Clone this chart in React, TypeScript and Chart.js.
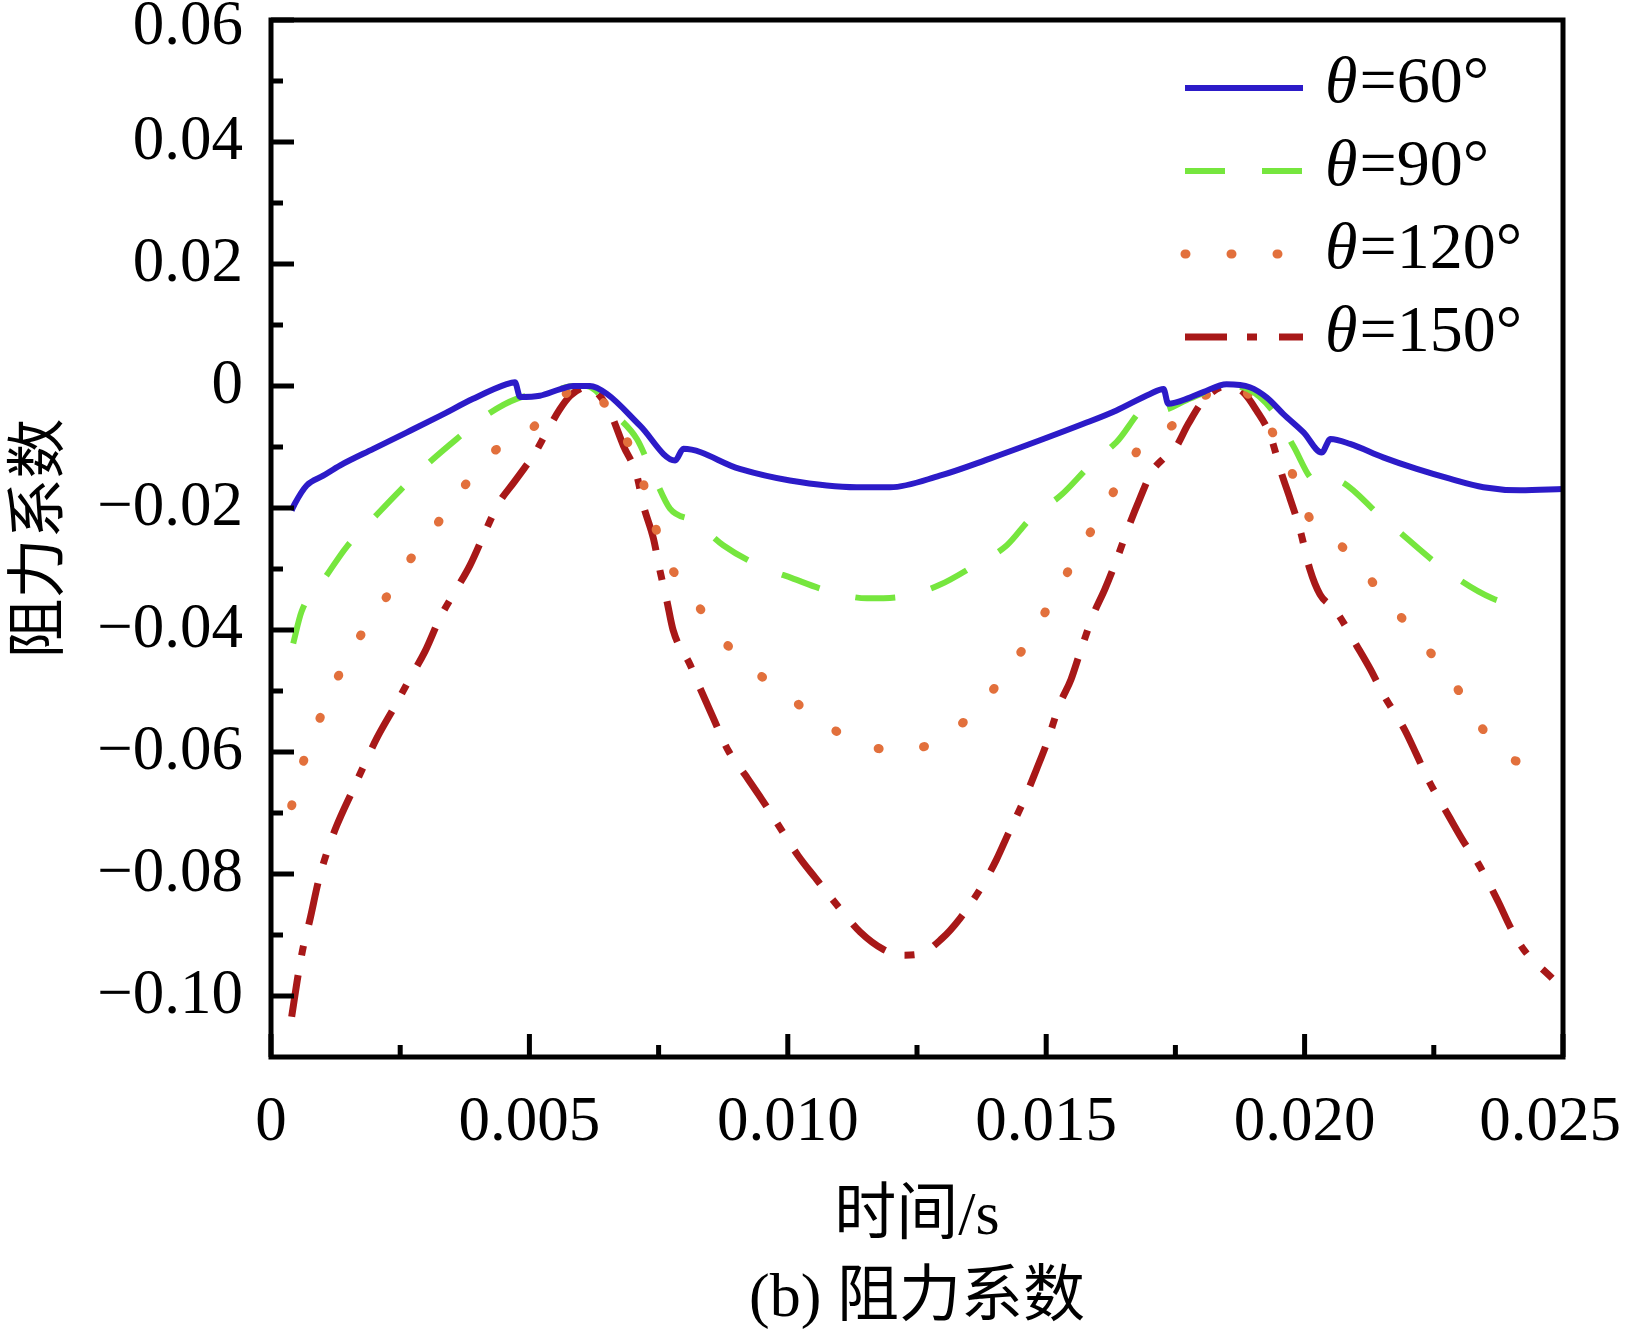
import { useEffect, useRef } from 'react';
import Chart from 'chart.js/auto';

// time (s) and drag coefficient
const time60 = [0.0004, 0.00046, 0.00069, 0.00101, 0.00134, 0.00198, 0.00263, 0.00327, 0.00391, 0.00456, 0.00472, 0.00482, 0.0052, 0.0056, 0.00585, 0.00617, 0.0065, 0.00714, 0.00782, 0.00798, 0.00907, 0.01004, 0.01133, 0.01198, 0.01294, 0.01391, 0.01488, 0.01572, 0.01636, 0.01701, 0.01727, 0.01736, 0.01778, 0.01804, 0.01849, 0.01894, 0.01927, 0.01959, 0.01998, 0.02033, 0.0205, 0.02088, 0.02152, 0.02217, 0.02281, 0.02346, 0.02417, 0.025];
const drag60 = [-0.0204, -0.0193, -0.0163, -0.0147, -0.013, -0.0103, -0.0076, -0.0049, -0.0021, 0.0003, 0.0006, -0.0018, -0.0016, -0.0005, 0.0, 0.0, -0.0013, -0.0065, -0.0122, -0.0103, -0.0136, -0.0155, -0.0166, -0.0166, -0.0147, -0.0119, -0.0089, -0.0062, -0.004, -0.0013, -0.0005, -0.0029, -0.0019, -0.001, 0.0003, -0.0002, -0.0019, -0.0046, -0.0076, -0.0109, -0.0087, -0.0095, -0.0117, -0.0136, -0.0152, -0.0166, -0.0171, -0.0169];

const time90 = [0.00043, 0.00059, 0.00108, 0.00146, 0.00198, 0.0025, 0.00304, 0.00359, 0.0042, 0.00475, 0.0054, 0.00585, 0.0061, 0.00669, 0.00708, 0.00743, 0.00772, 0.0082, 0.00875, 0.00943, 0.01008, 0.01082, 0.01153, 0.01223, 0.01294, 0.01358, 0.01424, 0.0147, 0.0153, 0.01585, 0.01636, 0.01701, 0.0172, 0.0178, 0.0185, 0.0189, 0.0195, 0.01978, 0.02023, 0.0205, 0.02152, 0.02268, 0.02363, 0.02437];
const drag90 = [-0.0422, -0.037, -0.031, -0.0264, -0.0217, -0.0171, -0.0127, -0.0087, -0.0046, -0.0021, -0.001, 0.0, 0.0, -0.0049, -0.0087, -0.0152, -0.0201, -0.0222, -0.0261, -0.0294, -0.0315, -0.0337, -0.0348, -0.0345, -0.0326, -0.0296, -0.0261, -0.0217, -0.0178, -0.013, -0.0092, -0.0032, -0.004, -0.002, 0.0, -0.0005, -0.0054, -0.0098, -0.0157, -0.0152, -0.0217, -0.0299, -0.0348, -0.0364];

const time120 = [0.0004, 0.00063, 0.00095, 0.0013, 0.00172, 0.00221, 0.00269, 0.00324, 0.00375, 0.00433, 0.00488, 0.00546, 0.006, 0.00656, 0.00675, 0.00714, 0.00737, 0.00766, 0.00807, 0.00856, 0.00917, 0.00985, 0.01055, 0.0113, 0.01213, 0.01294, 0.01362, 0.01417, 0.01469, 0.01513, 0.01556, 0.01601, 0.01645, 0.01691, 0.01749, 0.01804, 0.0185, 0.01894, 0.01936, 0.01978, 0.0201, 0.02062, 0.02117, 0.02175, 0.0223, 0.02288, 0.02333, 0.02391, 0.02465];
const drag120 = [-0.0688, -0.0615, -0.0544, -0.0476, -0.0411, -0.0349, -0.0285, -0.0223, -0.0163, -0.0106, -0.0084, -0.0032, 0.0, -0.004, -0.0067, -0.0141, -0.0212, -0.0285, -0.0334, -0.0397, -0.0454, -0.0498, -0.0544, -0.0582, -0.0598, -0.058, -0.0533, -0.0476, -0.0413, -0.0348, -0.0283, -0.0217, -0.0152, -0.0089, -0.0062, -0.0018, 0.0, -0.0016, -0.0073, -0.0147, -0.0217, -0.0254, -0.0307, -0.0367, -0.0423, -0.0486, -0.0549, -0.0605, -0.0633];

const time150 = [0.0004, 0.00053, 0.00063, 0.00075, 0.00092, 0.00108, 0.00127, 0.00159, 0.00182, 0.00205, 0.00243, 0.00269, 0.00298, 0.00327, 0.00356, 0.00385, 0.00417, 0.0044, 0.0047, 0.0049, 0.00508, 0.00533, 0.00559, 0.00579, 0.00611, 0.0063, 0.00656, 0.00682, 0.00708, 0.0072, 0.0074, 0.00753, 0.00766, 0.00778, 0.00811, 0.0083, 0.00853, 0.00885, 0.00917, 0.0095, 0.00991, 0.0102, 0.01053, 0.01104, 0.0114, 0.01184, 0.01223, 0.01256, 0.01298, 0.01333, 0.01378, 0.01404, 0.01426, 0.01459, 0.01481, 0.015, 0.01526, 0.01548, 0.01565, 0.01591, 0.01614, 0.01633, 0.01662, 0.01681, 0.01704, 0.01727, 0.01749, 0.01775, 0.01804, 0.01849, 0.01881, 0.01907, 0.01933, 0.01956, 0.01972, 0.01991, 0.0201, 0.0203, 0.02059, 0.02101, 0.02127, 0.02152, 0.02194, 0.02217, 0.02239, 0.02281, 0.02307, 0.02336, 0.02375, 0.02398, 0.02424, 0.02479];
const drag150 = [-0.1034, -0.0963, -0.0917, -0.0876, -0.0811, -0.0765, -0.0721, -0.0661, -0.0618, -0.0577, -0.052, -0.0479, -0.0435, -0.038, -0.0337, -0.0294, -0.0234, -0.0193, -0.0158, -0.0135, -0.0114, -0.0076, -0.0038, -0.0016, -0.0002, -0.001, -0.0043, -0.0098, -0.0147, -0.0194, -0.025, -0.0304, -0.0352, -0.04, -0.0457, -0.0495, -0.0539, -0.0598, -0.0637, -0.0678, -0.0732, -0.077, -0.0806, -0.086, -0.0895, -0.0923, -0.0933, -0.0931, -0.0906, -0.0873, -0.0817, -0.0776, -0.0735, -0.0675, -0.0629, -0.0588, -0.0522, -0.0481, -0.0438, -0.0375, -0.0332, -0.0292, -0.0225, -0.0185, -0.0141, -0.0119, -0.0103, -0.0062, -0.0024, 0.0, -0.001, -0.004, -0.008, -0.0145, -0.0185, -0.0235, -0.03, -0.0342, -0.0367, -0.0426, -0.0464, -0.0505, -0.0564, -0.0605, -0.0645, -0.0708, -0.0746, -0.0783, -0.0846, -0.0887, -0.0924, -0.0971];

const seriesLabels = ['θ=60°', 'θ=90°', 'θ=120°', 'θ=150°'];

const xMajorTicks = [0, 0.005, 0.01, 0.015, 0.02, 0.025];
const xMinorTicks = [0.0025, 0.0075, 0.0125, 0.0175, 0.0225];
const xTickLabels = ['0', '0.005', '0.010', '0.015', '0.020', '0.025'];
const yMajorTicks = [0.06, 0.04, 0.02, 0, -0.02, -0.04, -0.06, -0.08, -0.1];
const yMinorTicks = [0.05, 0.03, 0.01, -0.01, -0.03, -0.05, -0.07, -0.09];
const yTickLabels = ['0.06', '0.04', '0.02', '0', '\u22120.02', '\u22120.04', '\u22120.06', '\u22120.08', '\u22120.10'];

const SERIF = "'Liberation Serif', 'Noto Sans CJK SC', serif";

const toPoints = (t: number[], v: number[]) => t.map((x, i) => ({ x, y: v[i] }));

// box, inward ticks, tick labels and the legend
const framePlugin = {
  id: 'frame',
  afterDatasetsDraw(chart: any) {
    const { ctx, chartArea: a, scales } = chart;
    const x = scales.x;
    const y = scales.y;
    ctx.save();
    ctx.strokeStyle = '#000';
    ctx.lineWidth = 5;
    ctx.setLineDash([]);
    ctx.strokeRect(a.left, a.top, a.right - a.left, a.bottom - a.top);

    ctx.beginPath();
    xMajorTicks.forEach(v => {
      const px = x.getPixelForValue(v);
      ctx.moveTo(px, a.bottom);
      ctx.lineTo(px, a.bottom - 23);
    });
    xMinorTicks.forEach(v => {
      const px = x.getPixelForValue(v);
      ctx.moveTo(px, a.bottom);
      ctx.lineTo(px, a.bottom - 12);
    });
    yMajorTicks.forEach(v => {
      const py = y.getPixelForValue(v);
      ctx.moveTo(a.left, py);
      ctx.lineTo(a.left + 23, py);
    });
    yMinorTicks.forEach(v => {
      const py = y.getPixelForValue(v);
      ctx.moveTo(a.left, py);
      ctx.lineTo(a.left + 12, py);
    });
    ctx.stroke();

    ctx.fillStyle = '#000';
    ctx.font = `63px ${SERIF}`;
    ctx.textBaseline = 'middle';
    ctx.textAlign = 'right';
    yMajorTicks.forEach((v, i) => {
      // keep the top label inside the picture
      const py = Math.max(y.getPixelForValue(v), 27);
      ctx.fillText(yTickLabels[i], a.left - 28, py);
    });
    ctx.textAlign = 'center';
    xMajorTicks.forEach((v, i) => {
      const w = ctx.measureText(xTickLabels[i]).width;
      const px = Math.min(x.getPixelForValue(v), chart.width - w / 2 - 4);
      ctx.fillText(xTickLabels[i], px, a.bottom + 66);
    });

    // legend
    chart.data.datasets.forEach((ds: any, i: number) => {
      const rowY = a.top + 68 + i * 83;
      ctx.strokeStyle = ds.borderColor;
      ctx.lineWidth = ds.borderWidth;
      ctx.lineCap = ds.borderCapStyle;
      ctx.setLineDash(ds.borderDash);
      ctx.beginPath();
      ctx.moveTo(a.right - 378, rowY);
      ctx.lineTo(a.right - 260, rowY);
      ctx.stroke();
      ctx.setLineDash([]);
      ctx.lineCap = 'butt';

      const label: string = ds.label;
      ctx.textAlign = 'left';
      ctx.font = `italic 66px ${SERIF}`;
      const tx = a.right - 238;
      ctx.fillText(label[0], tx, rowY - 3);
      const w = ctx.measureText(label[0]).width;
      ctx.font = `66px ${SERIF}`;
      ctx.fillText(label.slice(1), tx + w + 2, rowY - 3);
    });
    ctx.restore();
  },
};

export default function App() {
  const chartRef = useRef<HTMLCanvasElement>(null);
  const chartInstance = useRef<Chart | null>(null);

  useEffect(() => {
    if (!chartRef.current) return;
    if (chartInstance.current) {
      chartInstance.current.destroy();
    }
    const ctx = chartRef.current.getContext('2d');
    if (!ctx) return;

    chartInstance.current = new Chart(ctx, {
      type: 'line',
      data: {
        datasets: [
          {
            label: seriesLabels[0],
            data: toPoints(time60, drag60),
            borderColor: '#2c1bc8',
            borderWidth: 6,
            borderDash: [],
            borderCapStyle: 'butt',
          },
          {
            label: seriesLabels[1],
            data: toPoints(time90, drag90),
            borderColor: '#76e63e',
            borderWidth: 6,
            borderDash: [40, 37],
            borderCapStyle: 'butt',
          },
          {
            label: seriesLabels[2],
            data: toPoints(time120, drag120),
            borderColor: '#e2703c',
            borderWidth: 9,
            borderDash: [1, 45],
            borderCapStyle: 'round',
          },
          {
            label: seriesLabels[3],
            data: toPoints(time150, drag150),
            borderColor: '#a81818',
            borderWidth: 7,
            borderDash: [42, 20, 10, 22],
            borderCapStyle: 'butt',
          },
        ] as any,
      },
      options: {
        responsive: false,
        animation: false,
        devicePixelRatio: 1,
        layout: {
          padding: { top: 20, right: 62, left: 0, bottom: 0 },
        },
        elements: {
          point: { radius: 0, hoverRadius: 0 },
          line: { cubicInterpolationMode: 'monotone', fill: false },
        },
        plugins: {
          legend: { display: false },
          tooltip: { enabled: false },
          title: {
            display: true,
            text: '(b) 阻力系数',
            position: 'bottom',
            fullSize: false,
            color: '#000',
            font: { family: SERIF, size: 62, weight: 'normal', lineHeight: 1.05 },
            padding: 0,
          },
        },
        scales: {
          x: {
            type: 'linear',
            min: 0,
            max: 0.025,
            grid: { display: false },
            border: { display: false },
            ticks: { display: false },
            title: {
              display: true,
              text: '时间/s',
              color: '#000',
              font: { family: SERIF, size: 62 },
              padding: { top: 0, bottom: 12 },
            },
            afterFit: (scale: any) => {
              scale.height = 209.9;
            },
          },
          y: {
            type: 'linear',
            min: -0.11,
            max: 0.06,
            grid: { display: false },
            border: { display: false },
            ticks: { display: false },
            title: {
              display: true,
              text: '阻力系数',
              color: '#000',
              font: { family: SERIF, size: 60 },
              padding: { top: 6, bottom: 0 },
            },
            afterFit: (scale: any) => {
              scale.width = 271;
            },
          },
        },
      },
      plugins: [framePlugin],
    });

    return () => {
      if (chartInstance.current) {
        chartInstance.current.destroy();
        chartInstance.current = null;
      }
    };
  }, []);

  return (
    <div style={{ position: 'absolute', left: 0, top: 0, width: 1625, height: 1332, background: '#fff' }}>
      <canvas ref={chartRef} width={1625} height={1332} style={{ width: 1625, height: 1332 }} />
    </div>
  );
}
